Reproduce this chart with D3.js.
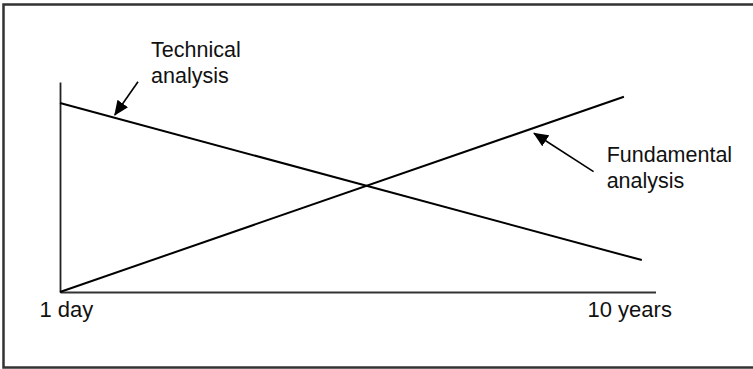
<!DOCTYPE html>
<html>
<head>
<meta charset="utf-8">
<script src="https://cdnjs.cloudflare.com/ajax/libs/d3/7.8.5/d3.min.js"></script>
<style>
    body { margin: 0; background: #fff; }
    svg { display: block; }
</style>
</head>
<body>
<script>
// horizon runs 0..100 from "1 day" to "10 years", importance 0..100
var tickLabels = ["1 day", "10 years"];
var tickValues = [0, 100];

var seriesNames = ["Technical analysis", "Fundamental analysis"];
var technicalValues = [{x: 0, y: 90}, {x: 97.7, y: 15.2}];
var fundamentalValues = [{x: 0, y: 0}, {x: 94.7, y: 93}];

// arrow from label towards its line, and where the label sits (data units)
var arrowFrom = [{x: 13.1, y: 100.1}, {x: 89.6, y: 57.3}];
var arrowTo = [{x: 9.2, y: 84.3}, {x: 79.6, y: 75.6}];
var labelAt = [{x: 15.3, y: 111.7}, {x: 91.8, y: 61.8}];
var labelLines = [["Technical", "analysis"], ["Fundamental", "analysis"]];

var width = 753;
var height = 369;

var x = d3.scaleLinear().domain([0, 100]).range([60, 655.5]);
var y = d3.scaleLinear().domain([0, 100]).range([292, 82]);

var svg = d3.select("body").append("svg")
    .attr("width", width)
    .attr("height", height);

/*****************  Frame **********************/

svg.append("rect")
    .attr("x", 3.5)
    .attr("y", 4.5)
    .attr("width", width + 10)
    .attr("height", 363)
    .attr("fill", "none")
    .attr("stroke", "#333")
    .attr("stroke-width", 2.5);

/*****************  Arrow Head **********************/

svg.append("defs").append("marker")
    .attr("id", "arrow")
    .attr("viewBox", "0 0 15 13")
    .attr("refX", 14)
    .attr("refY", 6.5)
    .attr("markerWidth", 15)
    .attr("markerHeight", 13)
    .attr("markerUnits", "userSpaceOnUse")
    .attr("orient", "auto")
    .append("path")
    .attr("d", "M0,0L15,6.5L0,13Z")
    .attr("fill", "#000");

/*****************  Axes **********************/

var xAxis = d3.axisBottom(x).tickValues([]).tickSize(0).tickSizeOuter(0);
var yAxis = d3.axisLeft(y).tickValues([]).tickSize(0).tickSizeOuter(0);

svg.append("g")
    .attr("transform", "translate(0," + y(0) + ")")
    .call(xAxis)
    .call(function (g) {
        g.select(".domain").attr("stroke", "#333").attr("stroke-width", 2);
    });

svg.append("g")
    .attr("transform", "translate(" + x(0) + ",0)")
    .call(yAxis)
    .call(function (g) {
        g.select(".domain").attr("stroke", "#222").attr("stroke-width", 1.8);
    });

svg.selectAll(".tickLabel")
    .data(tickLabels)
    .enter()
    .append("text")
    .attr("class", "tickLabel")
    .attr("x", function (d, i) {
        if (i == 0) {
            return x(tickValues[i]) - 20.5;
        } else {
            return x(tickValues[i]) - 68;
        }
    })
    .attr("y", y(0) + 24.5)
    .text(function (d) { return d; })
    .attr("font-family", "'Liberation Sans', Arial, sans-serif")
    .attr("font-size", "22px")
    .attr("fill", "#111");

/*****************  Lines **********************/

var line = d3.line()
    .x(function (d) { return x(d.x); })
    .y(function (d) { return y(d.y); });

svg.selectAll(".series")
    .data([technicalValues, fundamentalValues])
    .enter()
    .append("path")
    .attr("class", "series")
    .attr("d", line)
    .attr("fill", "none")
    .attr("stroke", "#000")
    .attr("stroke-width", 2);

/*****************  Annotations **********************/

svg.selectAll(".annArrow")
    .data(seriesNames)
    .enter()
    .append("line")
    .attr("class", "annArrow")
    .attr("x1", function (d, i) { return x(arrowFrom[i].x); })
    .attr("y1", function (d, i) { return y(arrowFrom[i].y); })
    .attr("x2", function (d, i) { return x(arrowTo[i].x); })
    .attr("y2", function (d, i) { return y(arrowTo[i].y); })
    .attr("stroke", "#000")
    .attr("stroke-width", 1.6)
    .attr("marker-end", "url(#arrow)");

var labels = svg.selectAll(".annText")
    .data(seriesNames)
    .enter()
    .append("text")
    .attr("class", "annText")
    .attr("x", function (d, i) { return x(labelAt[i].x); })
    .attr("y", function (d, i) { return y(labelAt[i].y); })
    .attr("font-family", "'Liberation Sans', Arial, sans-serif")
    .attr("font-size", "21.5px")
    .attr("fill", "#111");

labels.selectAll("tspan")
    .data(function (d, i) { return labelLines[i].map(function (t) { return {t: t, i: i}; }); })
    .enter()
    .append("tspan")
    .attr("x", function (d) { return x(labelAt[d.i].x); })
    .attr("dy", function (d, j) { return j == 0 ? 0 : 26; })
    .text(function (d) { return d.t; });
</script>
</body>
</html>
